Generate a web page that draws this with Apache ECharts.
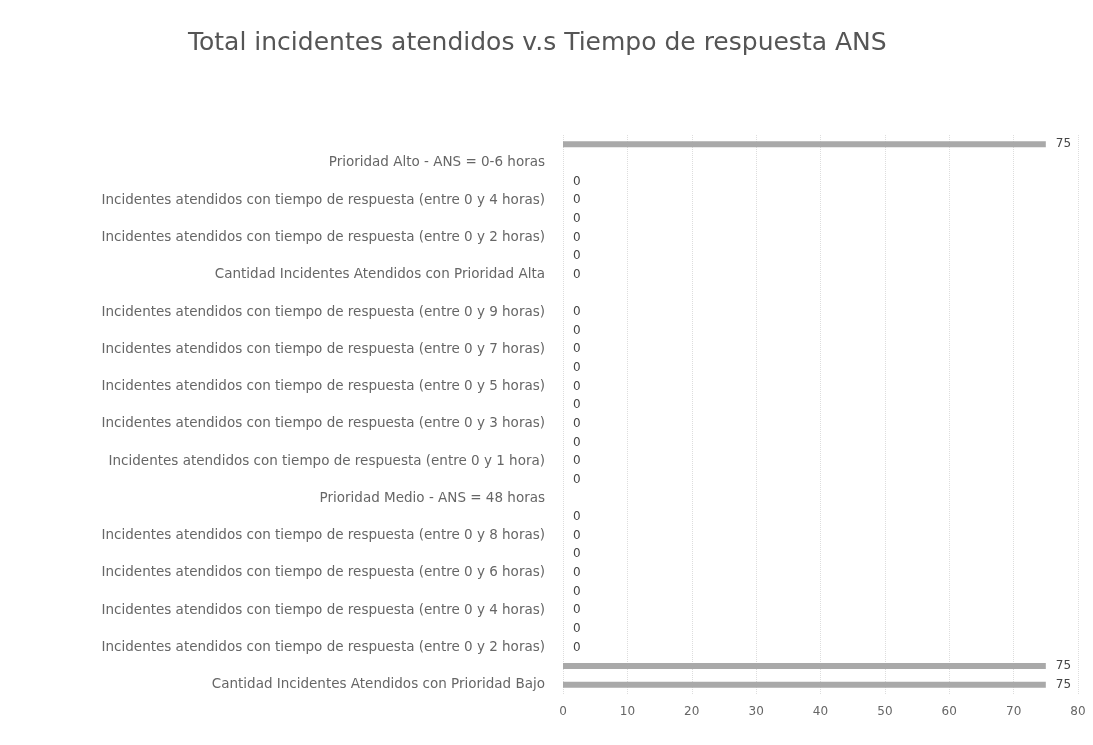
<!DOCTYPE html>
<html>
<head>
<meta charset="utf-8">
<script src="https://cdn.jsdelivr.net/npm/echarts@6/dist/echarts.min.js"></script>
<style>
  html, body { margin: 0; padding: 0; background: #fff; }
  #chart { width: 1093px; height: 745px; }
</style>
</head>
<body>
<div id="chart"></div>
<script>
// categories listed bottom -> top (Excel order)
var categories = [
  'Cantidad Incidentes Atendidos con Prioridad Bajo',
  'Incidentes atendidos con tiempo de respuesta (entre 0 y 1 hora)',
  'Incidentes atendidos con tiempo de respuesta (entre 0 y 2 horas)',
  'Incidentes atendidos con tiempo de respuesta (entre 0 y 3 horas)',
  'Incidentes atendidos con tiempo de respuesta (entre 0 y 4 horas)',
  'Incidentes atendidos con tiempo de respuesta (entre 0 y 5 horas)',
  'Incidentes atendidos con tiempo de respuesta (entre 0 y 6 horas)',
  'Incidentes atendidos con tiempo de respuesta (entre 0 y 7 horas)',
  'Incidentes atendidos con tiempo de respuesta (entre 0 y 8 horas)',
  'Incidentes atendidos con tiempo de respuesta (entre 0 y 9 horas)',
  'Prioridad Medio - ANS = 48 horas',
  'Cantidad Incidentes Atendidos con Prioridad Medio',
  'Incidentes atendidos con tiempo de respuesta (entre 0 y 1 hora)',
  'Incidentes atendidos con tiempo de respuesta (entre 0 y 2 horas)',
  'Incidentes atendidos con tiempo de respuesta (entre 0 y 3 horas)',
  'Incidentes atendidos con tiempo de respuesta (entre 0 y 4 horas)',
  'Incidentes atendidos con tiempo de respuesta (entre 0 y 5 horas)',
  'Incidentes atendidos con tiempo de respuesta (entre 0 y 6 horas)',
  'Incidentes atendidos con tiempo de respuesta (entre 0 y 7 horas)',
  'Incidentes atendidos con tiempo de respuesta (entre 0 y 8 horas)',
  'Incidentes atendidos con tiempo de respuesta (entre 0 y 9 horas)',
  ' ',
  'Cantidad Incidentes Atendidos con Prioridad Alta',
  'Incidentes atendidos con tiempo de respuesta (entre 0 y 1 hora)',
  'Incidentes atendidos con tiempo de respuesta (entre 0 y 2 horas)',
  'Incidentes atendidos con tiempo de respuesta (entre 0 y 3 horas)',
  'Incidentes atendidos con tiempo de respuesta (entre 0 y 4 horas)',
  'Incidentes atendidos con tiempo de respuesta (entre 0 y 5 horas)',
  'Prioridad Alto - ANS = 0-6 horas',
  'Total incidentes atendidos'
];

var values = [
  75, 75, 0, 0, 0, 0, 0, 0, 0, 0,
  null, 0, 0, 0, 0, 0, 0, 0, 0, 0,
  0, null, 0, 0, 0, 0, 0, 0, null, 75
];

var xTicks = [0, 80, 10];  // min, max, interval

var myChart = echarts.init(document.getElementById('chart'));

var option = {
  backgroundColor: '#fff',
  animation: false,
  title: {
    text: 'Total incidentes atendidos v.s Tiempo de respuesta ANS',
    left: 183,
    top: 26,
    textStyle: {
      fontFamily: 'DejaVu Sans',
      fontSize: 25,
      fontWeight: 'normal',
      color: '#555'
    }
  },
  grid: {
    left: 563,
    right: 15,
    top: 135,
    bottom: 51
  },
  xAxis: {
    type: 'value',
    min: xTicks[0],
    max: xTicks[1],
    interval: xTicks[2],
    axisLine: { show: false },
    axisTick: { show: false },
    axisLabel: {
      margin: 12,
      fontFamily: 'DejaVu Sans',
      fontSize: 12,
      color: '#666'
    },
    splitLine: {
      show: true,
      lineStyle: { color: '#ddd', type: 'dotted', width: 1 }
    }
  },
  yAxis: {
    type: 'category',
    data: categories,
    axisLine: { show: false },
    axisTick: { show: false },
    axisLabel: {
      interval: 1,
      margin: 18,
      fontFamily: 'DejaVu Sans',
      fontSize: 13.5,
      color: '#666'
    }
  },
  series: [
    {
      type: 'bar',
      data: values,
      barWidth: 6,
      itemStyle: { color: '#a9a9a9' },
      label: {
        show: true,
        position: 'right',
        distance: 10,
        fontFamily: 'DejaVu Sans',
        fontSize: 12,
        color: '#444'
      }
    }
  ]
};

myChart.setOption(option);
</script>
</body>
</html>
